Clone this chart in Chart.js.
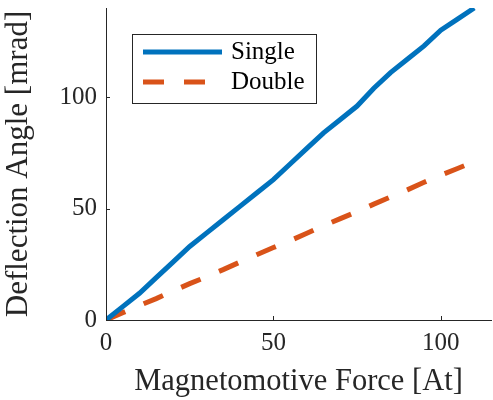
<!DOCTYPE html>
<html>
<head>
<meta charset="utf-8">
<script src="https://cdn.jsdelivr.net/npm/chart.js@4"></script>
<style>
  html, body { margin: 0; padding: 0; background: #fff; }
  #wrap { width: 493px; height: 400px; }
</style>
</head>
<body>
<div id="wrap"><canvas id="chart" width="493" height="400"></canvas></div>
<script>
// data
const force = [0, 5, 10, 15, 20, 25, 30, 35, 40, 45, 50, 55, 60, 65, 70, 75, 80, 85, 90, 95, 100, 105, 110];
const single = [0, 6, 12, 19, 26, 33, 39, 45, 51, 57, 63, 70, 77, 84, 90, 96, 104, 111, 117, 123, 130, 135, 140];
const double = [0, 3.3, 6.5, 9.6, 13, 16.3, 19.4, 22.6, 26, 29.3, 32.5, 35.6, 38.9, 42.3, 45.5, 48.6, 52, 55.2, 58.4, 61.8, 65, 68, 71];
const xTicks = [0, 50, 100];
const yTicks = [0, 50, 100];

const ink = '#262626';
const serif = '"Liberation Serif", "DejaVu Serif", serif';

const toPoints = (ys) => force.map((x, i) => ({ x, y: ys[i] }));

// inward tick marks, like the original figure
const innerTicks = {
    id: 'innerTicks',
    afterDraw(chart) {
        const { ctx, chartArea, scales } = chart;
        ctx.save();
        ctx.strokeStyle = ink;
        ctx.lineWidth = 1;
        ctx.beginPath();
        xTicks.forEach(v => {
            const px = Math.round(scales.x.getPixelForValue(v)) + 0.5;
            ctx.moveTo(px, chartArea.bottom);
            ctx.lineTo(px, chartArea.bottom - 4);
        });
        yTicks.forEach(v => {
            const py = Math.round(scales.y.getPixelForValue(v)) + 0.5;
            ctx.moveTo(chartArea.left, py);
            ctx.lineTo(chartArea.left + 4, py);
        });
        ctx.stroke();
        ctx.restore();
    }
};

// boxed legend inside the plot
const boxLegend = {
    id: 'boxLegend',
    afterDatasetsDraw(chart) {
        const { ctx } = chart;
        const x0 = 132.5, y0 = 34.5, w = 184, h = 69;
        ctx.save();
        ctx.fillStyle = '#fff';
        ctx.fillRect(x0, y0, w, h);
        ctx.strokeStyle = ink;
        ctx.lineWidth = 1;
        ctx.strokeRect(x0, y0, w, h);
        chart.data.datasets.forEach((ds, i) => {
            const ly = 52 + i * 30;
            ctx.beginPath();
            ctx.strokeStyle = ds.borderColor;
            ctx.lineWidth = ds.borderWidth;
            ctx.setLineDash(ds.borderDash || []);
            ctx.moveTo(143, ly);
            ctx.lineTo(222, ly);
            ctx.stroke();
            ctx.setLineDash([]);
            ctx.fillStyle = '#000';
            ctx.font = '25px ' + serif;
            ctx.textBaseline = 'middle';
            ctx.fillText(ds.label, 231, ly);
        });
        ctx.restore();
    }
};

new Chart(document.getElementById('chart'), {
    type: 'line',
    data: {
        datasets: [{
            label: 'Single',
            data: toPoints(single),
            borderColor: '#0072BD',
            borderWidth: 5,
            pointRadius: 0,
            tension: 0,
            fill: false
        },
        {
            label: 'Double',
            data: toPoints(double),
            borderColor: '#D95319',
            borderWidth: 5,
            borderDash: [21, 20],
            borderCapStyle: 'butt',
            pointRadius: 0,
            tension: 0,
            fill: false
        }]
    },
    options: {
        responsive: false,
        animation: false,
        layout: { padding: { top: 8, right: 2, left: 0, bottom: 0 } },
        plugins: {
            legend: { display: false },
            tooltip: { enabled: false }
        },
        scales: {
            x: {
                type: 'linear',
                min: 0,
                max: 115,
                afterBuildTicks: (s) => { s.ticks = xTicks.map(v => ({ value: v })); },
                afterFit: (s) => { s.height = 80; s.paddingLeft = 0; s.paddingRight = 0; },
                grid: { display: true, drawOnChartArea: false, drawTicks: false },
                border: { display: true, color: ink, width: 1 },
                ticks: { color: ink, padding: 8, maxRotation: 0, font: { family: serif, size: 25 } },
                title: { display: true, text: 'Magnetomotive Force [At]', color: ink, padding: { top: 0, bottom: 0 }, font: { family: serif, size: 30.5 } }
            },
            y: {
                min: 0,
                max: 140,
                afterBuildTicks: (s) => { s.ticks = yTicks.map(v => ({ value: v })); },
                afterFit: (s) => { s.width = 106; s.paddingTop = 0; s.paddingBottom = 0; },
                grid: { display: true, drawOnChartArea: false, drawTicks: false },
                border: { display: true, color: ink, width: 1 },
                ticks: { color: ink, padding: 9, font: { family: serif, size: 25 } },
                title: { display: true, text: 'Deflection Angle [mrad]', color: ink, padding: { top: 0, bottom: 0 }, font: { family: serif, size: 31 } }
            }
        }
    },
    plugins: [innerTicks, boxLegend]
});
</script>
</body>
</html>
